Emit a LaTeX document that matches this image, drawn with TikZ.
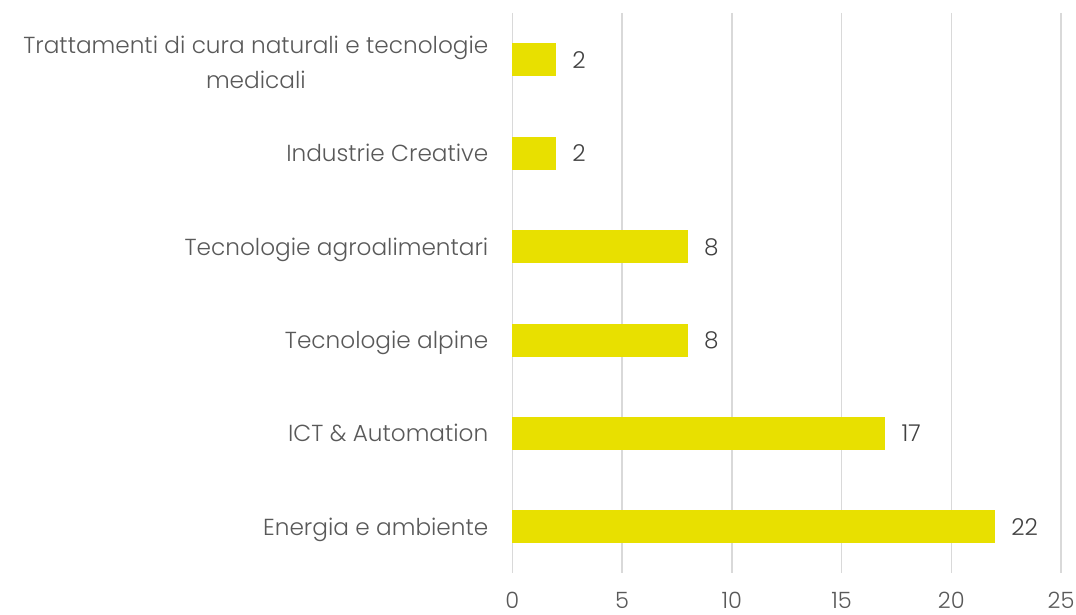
\documentclass[tikz,border=0pt]{standalone}
\usepackage{fontspec}
\setmainfont{Poppins}[UprightFont=* Light]
\definecolor{barc}{RGB}{232,224,0}
\definecolor{gridc}{RGB}{217,217,217}
\definecolor{labc}{RGB}{89,89,89}
\definecolor{valc}{RGB}{64,64,64}
\tikzset{
  gridline/.style={draw=gridc, line width=1.5pt},
  barbox/.style={fill=barc},
  catlabel/.style={anchor=base east, text=labc, inner sep=0pt, align=center, font=\fontsize{23.2}{35}\selectfont},
  vallabel/.style={anchor=base west, text=valc, inner sep=0pt, font=\fontsize{23.2}{25}\selectfont},
  ticklabel/.style={anchor=base, text=labc, inner sep=0pt, font=\fontsize{22.5}{25}\selectfont}
}
\begin{document}
\begin{tikzpicture}[x=1pt,y=1pt]
\useasboundingbox (0,0) rectangle (1076,615);
\def\xz{512.3}
\def\u{21.95}
% gridlines and tick labels
\foreach \i in {0,...,5}{
  \draw[gridline] ({\xz+\i*5*\u},602) -- ({\xz+\i*5*\u},42);
  \pgfmathtruncatemacro{\t}{\i*5}
  \node[ticklabel] (tick\i) at ({\xz+\i*5*\u},6) {\t};
}
% bars
\foreach \k/\v/\name in {0/2/trat,1/2/indu,2/8/agro,3/8/alpi,4/17/ict,5/22/ener}{
  \pgfmathsetmacro{\yc}{615-(60+\k*93.4)}
  \fill[barbox] (\xz,\yc-16.5) rectangle ({\xz+\v*\u},\yc+16.5);
  \node[vallabel] (val\name) at ({\xz+\v*\u+16},\yc-8.4) {\v};
}
% category labels
\node[catlabel] (ltrat) at (488.5,{615-88.3}) {Trattamenti di cura naturali e tecnologie\\medicali};
\node[catlabel] (lindu) at (488.5,{615-(60+1*93.4)-8.4}) {Industrie Creative};
\node[catlabel] (lagro) at (488.5,{615-(60+2*93.4)-8.4}) {Tecnologie agroalimentari};
\node[catlabel] (lalpi) at (488.5,{615-(60+3*93.4)-8.4}) {Tecnologie alpine};
\node[catlabel] (lict) at (488.5,{615-(60+4*93.4)-8.4}) {ICT \& Automation};
\node[catlabel] (lener) at (488.5,{615-(60+5*93.4)-8.4}) {Energia e ambiente};
\end{tikzpicture}
\end{document}
